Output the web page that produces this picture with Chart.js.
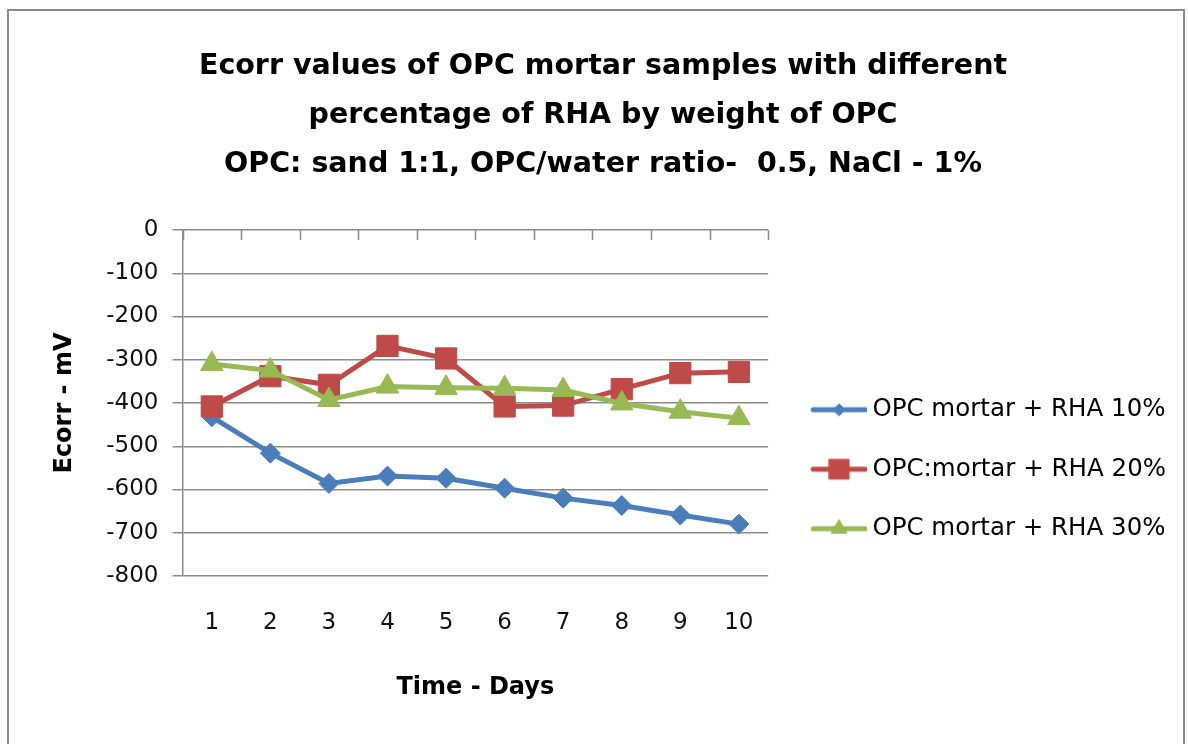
<!DOCTYPE html>
<html>
<head>
<meta charset="utf-8">
<script src="https://cdn.jsdelivr.net/npm/chart.js@4.4.1/dist/chart.umd.min.js"></script>
<style>
  html, body { margin: 0; padding: 0; background: #fff; }
  #wrap { position: relative; width: 1188px; height: 744px; overflow: hidden; }
  #frame { position: absolute; left: 7px; top: 9px; width: 1174px; height: 800px; border: 2px solid #8a8a8a; pointer-events: none; }
</style>
</head>
<body>
<div id="wrap">
  <canvas id="chart" width="1188" height="744"></canvas>
  <div id="frame"></div>
</div>
<script>
// Chart data
var days = ['1', '2', '3', '4', '5', '6', '7', '8', '9', '10'];
var rha10 = [-432, -516, -586, -569, -574, -597, -620, -637, -659, -680];
var rha20 = [-408, -338, -358, -268, -297, -408, -406, -368, -331, -328];
var rha30 = [-310, -325, -393, -362, -365, -366, -370, -401, -420, -435];
var seriesNames = ['OPC mortar + RHA 10%', 'OPC:mortar + RHA 20%', 'OPC mortar + RHA 30%'];
var yTicks = [0, -100, -200, -300, -400, -500, -600, -700, -800];

var BLUE = '#4a7ebb', RED = '#be4b48', GREEN = '#98b954';
var GRID = '#8c8c8c';
var FONT = "'DejaVu Sans', sans-serif";

// Legend symbol: short line with marker on it
function legendIcon(color, style, radius) {
    var c = document.createElement('canvas');
    c.width = 71;
    c.height = 30;
    var g = c.getContext('2d');
    g.strokeStyle = color;
    g.lineWidth = 5;
    g.lineCap = 'round';
    g.beginPath();
    g.moveTo(17, 15);
    g.lineTo(69, 15);
    g.stroke();
    g.fillStyle = color;
    g.strokeStyle = color;
    g.lineWidth = 1;
    Chart.helpers.drawPoint(g, {pointStyle: style, radius: radius, borderWidth: 1}, 43, 15);
    return c;
}

// Excel style tick marks hanging down from the zero line
var topTicks = {
    id: 'topTicks',
    beforeDatasetsDraw: function(chart) {
        var x = chart.scales.x, y = chart.scales.y;
        var y0 = y.getPixelForValue(0);
        var ctx = chart.ctx;
        ctx.save();
        ctx.strokeStyle = GRID;
        ctx.lineWidth = 1.5;
        ctx.beginPath();
        for (var i = 0; i <= days.length; i++) {
            var px = Math.round(x.getPixelForValue(i - 0.5)) + 0.5;
            ctx.moveTo(px, y0);
            ctx.lineTo(px, y0 + 10);
        }
        ctx.stroke();
        ctx.restore();
    }
};

var icons = [legendIcon(BLUE, 'rectRot', 6), legendIcon(RED, 'rect', 14), legendIcon(GREEN, 'triangle', 9)];

var ctx = document.getElementById('chart').getContext('2d');
new Chart(ctx, {
    type: 'line',
    data: {
        labels: days,
        datasets: [{
            label: seriesNames[0],
            data: rha10,
            borderColor: BLUE,
            backgroundColor: BLUE,
            borderWidth: 5,
            pointStyle: 'rectRot',
            pointRadius: 10,
            pointBorderWidth: 1,
            tension: 0,
            order: 3
        }, {
            label: seriesNames[1],
            data: rha20,
            borderColor: RED,
            backgroundColor: RED,
            borderWidth: 5,
            pointStyle: 'rect',
            pointRadius: 15,
            pointBorderWidth: 1,
            tension: 0,
            order: 2
        }, {
            label: seriesNames[2],
            data: rha30,
            borderColor: GREEN,
            backgroundColor: GREEN,
            borderWidth: 5,
            pointStyle: 'triangle',
            pointRadius: 13,
            pointBorderWidth: 1,
            tension: 0,
            order: 1
        }]
    },
    options: {
        responsive: false,
        animation: false,
        layout: {
            padding: {left: 30, right: 12, top: 0, bottom: 42}
        },
        plugins: {
            tooltip: {enabled: false},
            title: {
                display: true,
                text: [
                    'Ecorr values of OPC mortar samples with different',
                    'percentage of RHA by weight of OPC',
                    'OPC: sand 1:1, OPC/water ratio-  0.5, NaCl - 1%'
                ],
                color: '#000',
                font: {family: FONT, size: 28.5, weight: 'bold', lineHeight: 49 / 28.5},
                padding: {top: 42, bottom: 41}
            },
            legend: {
                position: 'right',
                align: 'end',
                fullSize: false,
                maxWidth: 600,
                labels: {
                    usePointStyle: true,
                    pointStyleWidth: 57,
                    padding: 35,
                    color: '#000',
                    font: {family: FONT, size: 24.5},
                    generateLabels: function(chart) {
                        return chart.data.datasets.map(function(ds, i) {
                            return {
                                text: ds.label,
                                pointStyle: icons[i],
                                fillStyle: ds.borderColor,
                                strokeStyle: ds.borderColor,
                                lineWidth: 0,
                                datasetIndex: i
                            };
                        });
                    }
                }
            }
        },
        scales: {
            x: {
                offset: true,
                grid: {display: false, drawTicks: false},
                border: {display: false},
                ticks: {color: '#111', padding: 33, font: {family: FONT, size: 23}},
                title: {
                    display: true,
                    text: 'Time - Days',
                    color: '#000',
                    font: {family: FONT, size: 24, weight: 'bold'},
                    padding: {top: 30, bottom: 0}
                },
                afterFit: function(scale) { scale.height = 126; }
            },
            y: {
                min: -800,
                max: 0,
                afterBuildTicks: function(scale) {
                    scale.ticks = yTicks.map(function(v) { return {value: v}; });
                },
                grid: {color: GRID, lineWidth: 1.5, tickLength: 10},
                border: {color: GRID, width: 1.5},
                ticks: {color: '#111', padding: 14, font: {family: FONT, size: 23}},
                title: {
                    display: true,
                    text: 'Ecorr - mV',
                    color: '#000',
                    font: {family: FONT, size: 24, weight: 'bold'},
                    padding: {top: 20, bottom: 10}
                },
                afterFit: function(scale) { scale.width = 152.5; }
            }
        }
    },
    plugins: [topTicks]
});
</script>
</body>
</html>
